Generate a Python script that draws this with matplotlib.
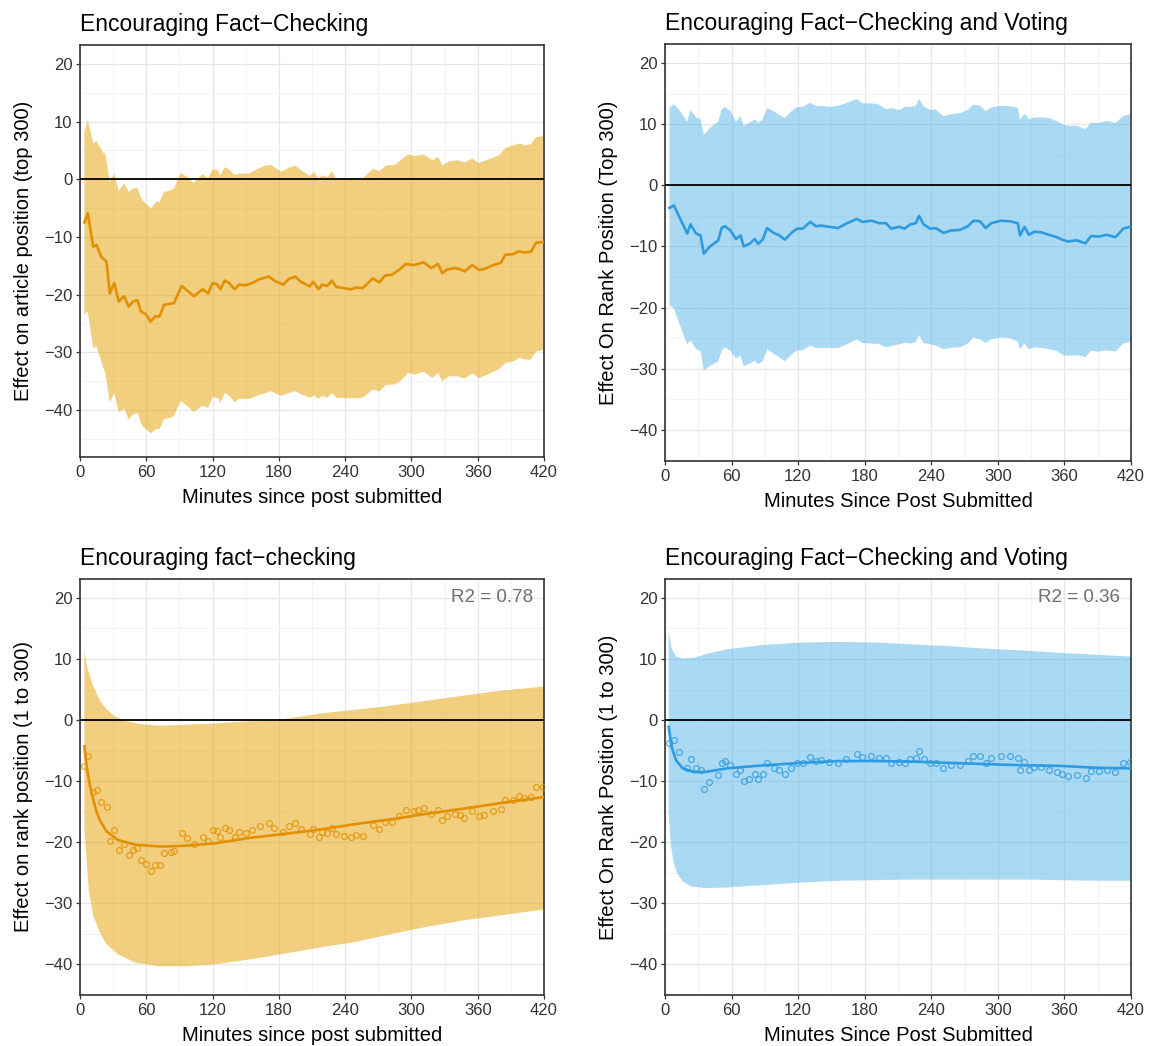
import numpy as np
import matplotlib
matplotlib.use("Agg")
import matplotlib.pyplot as plt
from matplotlib.ticker import MultipleLocator

plt.rcParams['font.family'] = ['Liberation Sans', 'DejaVu Sans']

# ---------------- data ----------------
# Panel 1 (Encouraging Fact-Checking): estimate and 95% band
p1_x = [4, 7, 12, 15, 19, 24, 27, 31, 35, 40, 44, 48, 52, 55, 60, 64, 68, 72, 76, 82,
        85, 92, 97, 103, 111, 116, 120, 124, 127, 131, 135, 140, 144, 150, 156, 163, 171, 176, 184, 189,
        195, 200, 208, 211, 216, 219, 224, 228, 232, 239, 245, 250, 256, 265, 271, 276, 282, 289, 295, 302,
        306, 311, 318, 324, 328, 332, 339, 344, 348, 355, 361, 366, 374, 381, 385, 392, 397, 402, 408, 413, 419]
p1_est = [-7.5, -5.9, -11.7, -11.4, -13.4, -14.3, -19.8, -18.0, -21.2, -20.3, -22.1, -21.2, -21.0, -22.9, -23.5,
          -24.7, -23.8, -23.8, -21.8, -21.6, -21.5, -18.5, -19.3, -20.3, -19.1, -19.8, -18.0, -18.2, -19.1, -17.6,
          -18.0, -19.1, -18.3, -18.4, -18.0, -17.3, -16.9, -17.6, -18.3, -17.3, -16.9, -17.8, -18.6, -17.8, -19.1,
          -18.3, -18.5, -17.6, -18.7, -18.9, -19.1, -18.8, -18.9, -17.2, -17.9, -16.7, -16.6, -15.7, -14.7, -14.9,
          -14.7, -14.4, -15.4, -14.7, -16.3, -15.7, -15.4, -15.6, -16.0, -14.9, -15.7, -15.6, -14.9, -14.5, -13.1,
          -13.0, -12.5, -12.7, -12.6, -11.0, -10.9]
p1_band_x = [4, 7, 12, 15, 21, 23, 27, 31, 35, 40, 44, 48, 52, 56, 64, 69, 72, 76, 82, 85,
             91, 97, 103, 111, 116, 120, 125, 127, 131, 135, 140, 144, 153, 160, 168, 173, 182, 189, 195, 200,
             208, 212, 216, 219, 224, 228, 232, 240, 250, 256, 265, 271, 277, 285, 290, 297, 303, 311, 319, 324,
             328, 334, 342, 348, 355, 361, 369, 379, 385, 392, 398, 403, 408, 413, 419]
p1_upper = [8.2, 10.3, 6.2, 6.6, 4.6, 4.4, -0.5, 1.0, -2.0, -0.7, -2.2, -1.6, -1.5, -3.5, -5.1,
            -3.9, -4.0, -2.2, -1.9, -1.6, 1.1, 0.4, -0.6, 0.9, 0.2, 1.7, 1.6, 0.6, 2.1, 1.7,
            0.7, 1.0, 1.0, 1.7, 2.4, 2.5, 1.3, 2.0, 2.4, 1.6, 0.6, 1.3, 0.1, 0.7, 0.4,
            1.4, 0.1, 0.0, 0.0, 0.1, 1.8, 1.4, 2.4, 2.5, 3.3, 4.3, 4.0, 4.3, 3.3, 3.9,
            2.4, 3.1, 3.3, 2.9, 3.6, 2.8, 3.4, 4.1, 5.4, 5.9, 6.2, 5.9, 6.1, 7.3, 7.5]
p1_lower = [-23.5, -22.9, -29.3, -29.0, -32.7, -33.6, -38.7, -37.1, -40.4, -39.8, -41.7, -40.8, -40.6, -42.7, -44.1,
            -43.3, -43.4, -41.6, -41.4, -41.1, -38.5, -39.3, -40.4, -39.3, -39.7, -37.8, -38.0, -38.8, -37.1, -37.6,
            -38.7, -38.1, -38.1, -37.6, -37.1, -36.8, -37.6, -37.1, -36.8, -37.3, -37.9, -37.5, -38.1, -37.6, -37.9,
            -37.1, -37.9, -38.0, -38.0, -37.9, -36.5, -36.8, -35.7, -35.6, -35.0, -33.6, -33.9, -33.4, -34.5, -33.6,
            -35.0, -34.2, -34.2, -34.6, -33.7, -34.5, -33.9, -33.0, -31.9, -31.6, -31.0, -31.3, -31.3, -29.9, -29.6]

# Panel 2 (Encouraging Fact-Checking and Voting)
p2_x = [4, 8, 13, 20, 23, 28, 32, 35, 40, 48, 51, 54, 59, 64, 68, 71, 76, 81, 84, 88,
        92, 98, 103, 108, 114, 119, 124, 131, 136, 141, 148, 156, 163, 173, 178, 186, 193, 199, 204, 211,
        216, 221, 226, 229, 233, 239, 244, 251, 258, 266, 273, 278, 284, 289, 294, 303, 311, 318, 320, 324,
        328, 333, 339, 346, 353, 358, 363, 371, 379, 384, 391, 398, 406, 413, 419]
p2_est = [-3.7, -3.3, -5.2, -7.9, -6.4, -7.9, -8.2, -11.2, -10.1, -9.0, -7.0, -6.7, -7.4, -8.8, -8.2,
          -10.0, -9.6, -8.8, -9.6, -8.9, -7.0, -7.8, -8.2, -8.9, -7.8, -7.1, -7.1, -6.0, -6.7, -6.6,
          -6.8, -7.0, -6.3, -5.5, -6.0, -5.8, -6.2, -6.2, -7.1, -6.8, -7.1, -6.4, -6.2, -5.0, -6.4,
          -7.1, -7.0, -7.8, -7.4, -7.3, -6.7, -5.8, -5.9, -7.0, -6.2, -5.8, -5.9, -6.2, -8.2, -6.8,
          -8.1, -7.6, -7.7, -8.1, -8.5, -8.9, -9.2, -9.0, -9.5, -8.3, -8.4, -8.1, -8.5, -7.1, -6.8]
p2_upper = [12.6, 13.3, 12.3, 10.4, 12.3, 11.1, 10.8, 8.2, 9.3, 10.4, 12.4, 12.8, 12.1, 10.4, 11.3,
            9.7, 10.2, 10.8, 10.2, 10.8, 12.6, 12.1, 11.5, 11.0, 12.1, 12.8, 12.8, 13.5, 13.0, 13.0,
            12.8, 13.0, 13.4, 14.1, 13.4, 13.4, 13.2, 12.4, 12.6, 12.3, 12.8, 12.8, 13.0, 14.1, 12.9,
            12.3, 12.4, 11.3, 11.6, 11.8, 12.3, 13.2, 13.0, 12.1, 12.7, 13.0, 12.9, 12.7, 10.7, 11.7,
            10.8, 11.1, 11.1, 11.0, 10.5, 10.0, 9.7, 9.7, 9.2, 10.2, 10.2, 10.5, 10.2, 11.3, 11.6]
p2_lower = [-19.7, -20.1, -22.7, -26.0, -25.4, -26.8, -27.1, -30.3, -29.6, -28.8, -27.1, -26.5, -27.1, -28.3, -27.9,
            -29.6, -29.2, -28.7, -29.3, -28.8, -26.8, -27.6, -28.1, -28.8, -27.7, -27.0, -27.0, -26.2, -26.6, -26.6,
            -26.6, -26.6, -26.1, -25.2, -25.8, -25.9, -26.0, -26.5, -26.3, -26.0, -25.8, -25.9, -25.6, -24.5, -25.8,
            -26.0, -26.2, -26.8, -26.6, -26.5, -25.9, -24.9, -25.2, -25.8, -25.2, -24.9, -25.0, -25.6, -26.8, -25.9,
            -26.8, -26.5, -26.6, -26.8, -27.1, -27.7, -27.9, -27.8, -28.1, -27.1, -27.2, -27.0, -27.2, -25.9, -25.6]

# Panel 3: fitted curve for fact-checking (points = p1_est)
p3_fit_x = [4, 6, 8, 10, 12, 15, 18, 24, 34, 50, 73, 92, 121, 153, 186, 218, 250, 283, 315, 347, 380, 420]
p3_fit = [-4.3, -7.5, -9.8, -11.5, -13.0, -15.0, -16.4, -18.2, -19.6, -20.4, -20.7, -20.6, -20.2, -19.3,
          -18.6, -17.9, -17.0, -16.2, -15.3, -14.5, -13.6, -12.6]
p3_up_x = [4, 6.5, 11, 18, 24, 31, 40, 56, 73, 89, 121, 153, 179, 218, 250, 283, 315, 347, 380, 420]
p3_upper = [11.2, 8.7, 6.0, 3.2, 1.8, 0.7, -0.1, -0.7, -0.9, -0.8, -0.55, -0.2, 0.0, 1.1, 1.7, 2.4, 3.2, 4.0, 4.8, 5.5]
p3_lo_x = [4, 8, 12, 18, 24, 34, 50, 73, 95, 121, 153, 186, 218, 250, 282, 315, 347, 379, 420]
p3_lower = [-18.0, -28.0, -32.0, -34.8, -36.7, -38.3, -39.7, -40.3, -40.3, -40.0, -39.2, -38.2, -37.2, -36.3,
            -35.0, -33.8, -32.8, -32.0, -31.0]

# Panel 4: fitted curve for fact-checking and voting (points = p2_est)
p4_fit_x = [3.3, 6, 10, 16, 26, 36, 56, 89, 123, 156, 189, 223, 256, 289, 323, 356, 389, 420]
p4_fit = [-1.1, -4.4, -6.6, -7.9, -8.5, -8.5, -7.9, -7.4, -7.0, -6.7, -6.7, -6.8, -7.0, -7.2, -7.4, -7.5, -7.8, -7.9]
p4_up_x = [3.3, 6, 10, 16, 26, 39, 56, 89, 123, 156, 189, 223, 256, 289, 323, 356, 389, 420]
p4_upper = [14.5, 11.7, 10.4, 10.1, 10.2, 10.9, 11.6, 12.3, 12.7, 12.8, 12.7, 12.4, 12.1, 11.7, 11.4, 11.0, 10.7, 10.4]
p4_lo_x = [3.3, 5.3, 7.7, 11, 16, 23, 36, 56, 89, 123, 156, 189, 223, 256, 289, 323, 356, 389, 420]
p4_lower = [-15.2, -20.7, -23.2, -25.1, -26.4, -27.2, -27.5, -27.4, -27.0, -26.6, -26.3, -26.2, -26.1, -26.1,
            -26.1, -26.1, -26.2, -26.3, -26.3]

titles = ["Encouraging Fact\u2212Checking", "Encouraging Fact\u2212Checking and Voting",
          "Encouraging fact\u2212checking", "Encouraging Fact\u2212Checking and Voting"]
ylabels = ["Effect on article position (top 300)", "Effect On Rank Position (Top 300)",
           "Effect on rank position (1 to 300)", "Effect On Rank Position (1 to 300)"]
xlabels = ["Minutes since post submitted", "Minutes Since Post Submitted",
           "Minutes since post submitted", "Minutes Since Post Submitted"]
r2_labels = [None, None, "R2 = 0.78", "R2 = 0.36"]
x_ticks = [0, 60, 120, 180, 240, 300, 360, 420]
y_ticks = [-40, -30, -20, -10, 0, 10, 20]

ORANGE = "#E69F00"
ORANGE_LINE = "#E39000"
BLUE = "#56B4E9"
BLUE_LINE = "#2E9BE0"

# ---------------- figure ----------------
fig = plt.figure(figsize=(11.58, 10.46), dpi=100)
rects = [
    [80 / 1158, 1 - 457 / 1046, 464 / 1158, 412 / 1046],
    [665 / 1158, 1 - 461 / 1046, 466 / 1158, 417 / 1046],
    [80 / 1158, 1 - 995 / 1046, 464 / 1158, 416 / 1046],
    [665 / 1158, 1 - 995 / 1046, 466 / 1158, 416 / 1046],
]
ylims = [(-48.2, 23.3), (-45.1, 23.1), (-45.0, 23.1), (-45.0, 23.1)]
axes = [fig.add_axes(r) for r in rects]


def style(ax, i):
    ax.set_xlim(0, 420)
    ax.set_ylim(*ylims[i])
    ax.set_xticks(x_ticks)
    ax.set_yticks(y_ticks)
    ax.xaxis.set_minor_locator(MultipleLocator(30))
    ax.yaxis.set_minor_locator(MultipleLocator(5))
    ax.set_axisbelow(True)
    ax.grid(True, which="major", color="#E6E6E6", lw=0.9)
    ax.grid(True, which="minor", color="#F1F1F1", lw=0.6)
    ax.tick_params(which="major", length=3, width=0.9, color="#333333",
                   labelsize=12, labelcolor="#333333", pad=2.5)
    ax.tick_params(which="minor", length=0)
    for s in ax.spines.values():
        s.set_color("#333333")
        s.set_linewidth(1.2)
    ax.axhline(0, color="black", lw=1.3, zorder=3)
    ax.set_title(titles[i], loc="left", fontsize=16.5, pad=10, color="black")
    ax.set_xlabel(xlabels[i], fontsize=14.5, labelpad=6)
    ax.set_ylabel(ylabels[i], fontsize=14.5, labelpad=8)
    if r2_labels[i]:
        ax.text(410, 20, r2_labels[i], ha="right", va="center", fontsize=13.5,
                color="#6E6E6E", zorder=5)


def band(ax, xu, yu, xl, yl, color):
    ax.fill(np.r_[xu, xl[::-1]], np.r_[yu, yl[::-1]], color=color, alpha=0.5,
            lw=0, zorder=2)


# Panel 1
ax = axes[0]
band(ax, np.array(p1_band_x), np.array(p1_upper), np.array(p1_band_x), np.array(p1_lower), ORANGE)
ax.plot(p1_x, p1_est, color=ORANGE_LINE, lw=1.9, zorder=4)
style(ax, 0)

# Panel 2
ax = axes[1]
band(ax, np.array(p2_x), np.array(p2_upper), np.array(p2_x), np.array(p2_lower), BLUE)
ax.plot(p2_x, p2_est, color=BLUE_LINE, lw=1.9, zorder=4)
style(ax, 1)

# Panel 3
ax = axes[2]
band(ax, np.array(p3_up_x), np.array(p3_upper), np.array(p3_lo_x), np.array(p3_lower), ORANGE)
ax.plot(p1_x, p1_est, ls="none", marker="o", ms=4.2, mfc="none", mec=ORANGE_LINE, mew=0.9,
        alpha=0.8, zorder=4)
ax.plot(p3_fit_x, p3_fit, color=ORANGE_LINE, lw=1.9, zorder=4)
style(ax, 2)

# Panel 4
ax = axes[3]
band(ax, np.array(p4_up_x), np.array(p4_upper), np.array(p4_lo_x), np.array(p4_lower), BLUE)
ax.plot(p2_x, p2_est, ls="none", marker="o", ms=4.2, mfc="none", mec=BLUE_LINE, mew=0.9,
        alpha=0.8, zorder=4)
ax.plot(p4_fit_x, p4_fit, color=BLUE_LINE, lw=1.9, zorder=4)
style(ax, 3)

fig.savefig("out.png", dpi=100, facecolor="white")
